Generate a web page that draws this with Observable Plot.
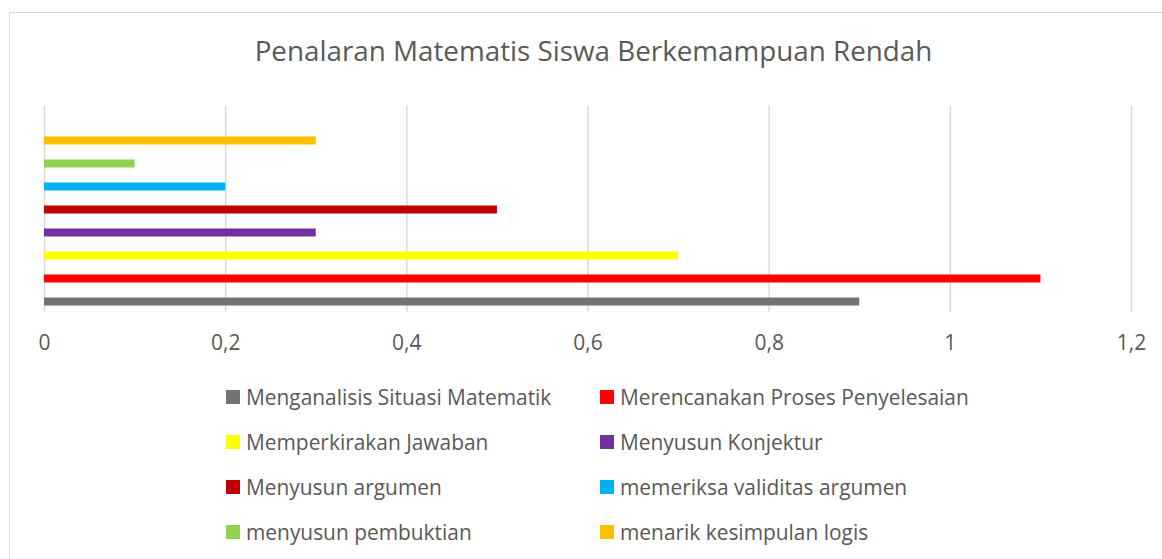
<!DOCTYPE html>
<html>
<head>
<meta charset="utf-8">
<script src="https://cdn.jsdelivr.net/npm/d3@7"></script>
<script src="https://cdn.jsdelivr.net/npm/@observablehq/plot@0.6"></script>
<style>
  html, body { margin: 0; padding: 0; background: #fff; }
  #wrap { position: relative; width: 1162px; height: 559px; overflow: hidden; font-family: "Open Sans", sans-serif; }
  #frame { position: absolute; left: 9px; top: 12px; width: 1200px; height: 600px; border: 1px solid #d9d9d9; box-sizing: border-box; }
  #title { position: absolute; left: 0; width: 1187px; top: 31px; text-align: center; font-size: 27.8px; color: #595959; }
  #chart { position: absolute; left: 0; top: 0; }
  .lg { position: absolute; display: flex; align-items: center; font-size: 20.9px; color: #595959; white-space: nowrap; }
  .lg span.sw { display: inline-block; width: 14px; height: 14px; margin-right: 6px; }
</style>
</head>
<body>
<div id="wrap">
  <div id="frame"></div>
  <div id="title">Penalaran Matematis Siswa Berkemampuan Rendah</div>
  <div id="chart"></div>
  <div id="legend"></div>
</div>
<script>
const series = [
  "Menganalisis Situasi Matematik",
  "Merencanakan Proses Penyelesaian",
  "Memperkirakan Jawaban",
  "Menyusun Konjektur",
  "Menyusun argumen",
  "memeriksa validitas argumen",
  "menyusun pembuktian",
  "menarik kesimpulan logis"
];
const values = [0.9, 1.1, 0.7, 0.3, 0.5, 0.2, 0.1, 0.3];
const colors = ["#767171", "#FF0000", "#FFFF00", "#7030A0", "#C00000", "#00B0F0", "#92D050", "#FFC000"];
const xTicks = [0, 0.2, 0.4, 0.6, 0.8, 1, 1.2];

const data = series.map((s, i) => ({series: s, value: values[i], color: colors[i]}));

const W = 1162, H = 370;
const chart = Plot.plot({
  width: W,
  height: H,
  marginTop: 105,
  marginBottom: H - 312,
  marginLeft: 44,
  marginRight: W - 1131,
  style: { fontFamily: "Open Sans, sans-serif", background: "transparent", overflow: "visible" },
  x: { domain: [0, 1.2], label: null },
  y: { domain: series.slice().reverse(), range: [128.5, 312.5], padding: 0, axis: null },
  color: { domain: series, range: colors },
  marks: [
    Plot.ruleX(xTicks, { stroke: "#d9d9d9", strokeWidth: 1.5 }),
    Plot.barX(data, { y: "series", x: "value", fill: "series", insetTop: 7.5, insetBottom: 7.5 }),
    Plot.axisX(xTicks, {
      tickSize: 0, tickPadding: 23, fontSize: 21, fill: "#595959", label: null,
      tickFormat: d => String(d).replace(".", ",")
    })
  ]
});
document.getElementById("chart").appendChild(chart);

const legend = document.getElementById("legend");
const colX = [226, 600];
const rowY = [397, 442, 487, 532];
series.forEach((s, i) => {
  const d = document.createElement("div");
  d.className = "lg";
  d.style.left = colX[i % 2] + "px";
  d.style.top = (rowY[Math.floor(i / 2)] - 14) + "px";
  d.style.height = "28px";
  const sw = document.createElement("span");
  sw.className = "sw";
  sw.style.background = colors[i];
  d.appendChild(sw);
  d.appendChild(document.createTextNode(s));
  legend.appendChild(d);
});
</script>
</body>
</html>
